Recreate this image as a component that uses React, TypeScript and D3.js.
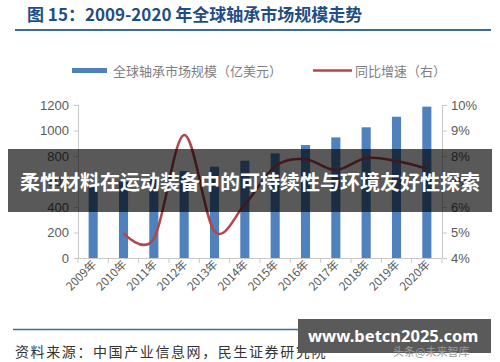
import React from 'react';
import * as d3 from 'd3';

const years = ['2009年', '2010年', '2011年', '2012年', '2013年', '2014年', '2015年', '2016年', '2017年', '2018年', '2019年', '2020年'];
const marketSize = [571, 599, 627, 682, 716, 763, 821, 886, 946, 1025, 1108, 1187];
const growth = [null, 4.98, 4.75, 8.82, 5.05, 6.1, 7.6, 7.87, 7.45, 7.92, 7.8, 7.5];
const leftTicks = [0, 200, 400, 600, 800, 1000, 1200];
const rightTicks = [4, 5, 6, 7, 8, 9, 10];

const W = 500;
const H = 362;
const BAR = '#4f81bd';
const LINE = '#b2464a';
const AXIS = '#c8c8c8';
const TXT = '#595959';
const SANS = '"Liberation Sans", Arial, sans-serif';
const CJK = '"Noto Sans CJK SC", "Noto Sans", sans-serif';

const App = () => {
  const x = d3.scaleBand().domain(years).range([78, 442]).paddingInner(0.7).paddingOuter(0.35);
  const yL = d3.scaleLinear().domain([0, 1200]).range([258, 105]);
  const yR = d3.scaleLinear().domain([4, 10]).range([258, 105]);
  const cx = (d) => x(d) + x.bandwidth() / 2;
  const step = x.step();

  const pts = years.map((d, i) => [cx(d), growth[i]]).filter((p) => p[1] != null);
  const line = d3.line()
    .x((p) => p[0])
    .y((p) => yR(p[1]))
    .curve(d3.curveCatmullRom.alpha(0));

  return (
    <svg width={W} height={H} style={{ position: 'absolute', left: 0, top: 0, background: '#fff' }}>
      {/* header */}
      <text x={27} y={21} fontFamily={CJK} fontWeight="bold" fontSize={17} fill="#1f4e86">
        图 15：2009-2020 年全球轴承市场规模走势
      </text>
      <line x1={15} x2={491} y1={30} y2={30} stroke="#3a6c9c" strokeWidth={2} />

      {/* legend */}
      <rect x={72} y={68} width={35} height={5} fill={BAR} />
      <text x={113} y={75.5} fontFamily={CJK} fontSize={13} fill="#7f7f7f">全球轴承市场规模（亿美元）</text>
      <line x1={313} x2={352} y1={70.5} y2={70.5} stroke={LINE} strokeWidth={2.5} />
      <text x={355} y={75.5} fontFamily={CJK} fontSize={13} fill="#7f7f7f">同比增速（右）</text>

      {/* axes */}
      <line x1={78.5} x2={78.5} y1={105} y2={258} stroke={AXIS} />
      <line x1={442.5} x2={442.5} y1={105} y2={258} stroke={AXIS} />
      <line x1={78} x2={442} y1={258.5} y2={258.5} stroke={AXIS} />
      {leftTicks.map((t) => (
        <g key={'l' + t}>
          <line x1={74} x2={78} y1={yL(t) + 0.5} y2={yL(t) + 0.5} stroke={AXIS} />
          <text x={69} y={yL(t) + 4.5} textAnchor="end" fontFamily={SANS} fontSize={13} fill={TXT}>{t}</text>
        </g>
      ))}
      {rightTicks.map((t) => (
        <g key={'r' + t}>
          <line x1={443} x2={447} y1={yR(t) + 0.5} y2={yR(t) + 0.5} stroke={AXIS} />
          <text x={451} y={yR(t) + 4.5} fontFamily={SANS} fontSize={13} fill={TXT}>{t + '%'}</text>
        </g>
      ))}
      {d3.range(years.length + 1).map((i) => (
        <line key={'xt' + i} x1={78 + i * step} x2={78 + i * step} y1={258} y2={263} stroke={AXIS} />
      ))}

      {/* bars */}
      {years.map((d, i) => (
        <rect key={d} x={x(d)} y={yL(marketSize[i])} width={x.bandwidth()} height={258 - yL(marketSize[i])} fill={BAR} />
      ))}

      {/* growth line */}
      <path d={line(pts)} fill="none" stroke={LINE} strokeWidth={2.5} />

      {/* x labels */}
      {years.map((d) => (
        <text key={'xl' + d} transform={`translate(${cx(d) + 4},${265}) rotate(-45)`} textAnchor="end"
          fontFamily={CJK} fontSize={11.5} fill={TXT}>{d}</text>
      ))}

      {/* footer */}
      <line x1={13} x2={491} y1={329.5} y2={329.5} stroke="#3a6c9c" strokeWidth={1.5} />
      <text x={15} y={357} fontFamily={CJK} fontSize={14} letterSpacing={1.6} fill="#333">
        资料来源：中国产业信息网，民生证券研究院
      </text>

      {/* overlay banner */}
      <rect x={8} y={149} width={484} height={63} fill="rgba(0,0,0,0.65)" />
      <text x={250} y={190} textAnchor="middle" fontFamily={CJK} fontWeight="bold" fontSize={20} fill="#fff">
        柔性材料在运动装备中的可持续性与环境友好性探索
      </text>

      {/* watermark */}
      <rect x={298} y={319} width={193} height={34} fill="#5a5a5a" />
      <text x={393} y={356} fontFamily={CJK} fontSize={11} fill="#9a9a9a">头条@未来智库</text>
      <text x={308} y={342} fontFamily={'"Noto Sans", sans-serif'} fontWeight="bold" fontSize={16.5} fill="#fff">
        www.betcn2025.com
      </text>
    </svg>
  );
};

export default App;
